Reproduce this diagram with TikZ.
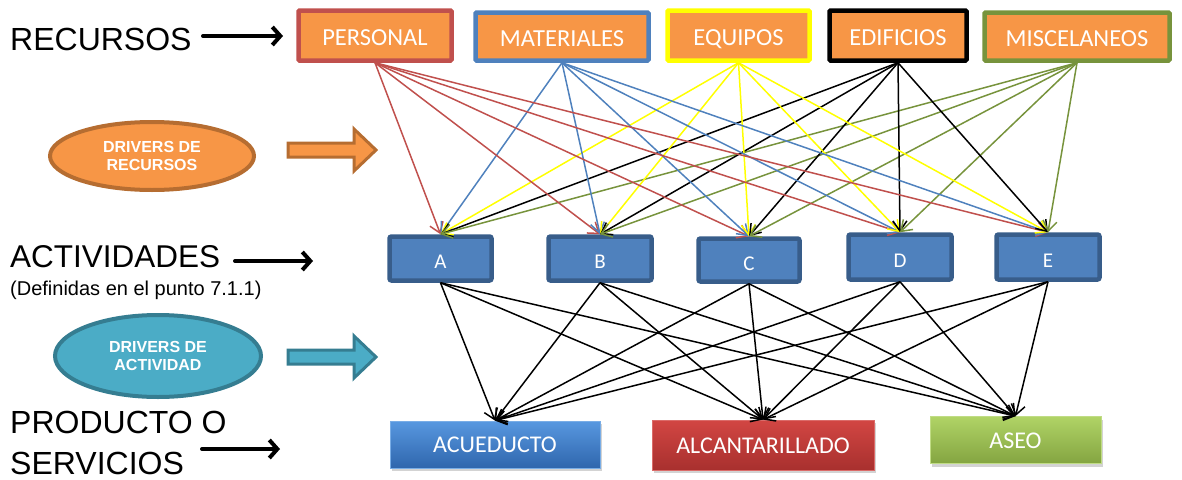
\documentclass[tikz,border=0pt]{standalone}
\usepackage{fontspec}
\setmainfont{Liberation Sans}
\newfontfamily\calfont{Carlito}
\usetikzlibrary{arrows.meta,shadows,shapes.geometric}
\definecolor{orF}{HTML}{F79646}
\definecolor{orD}{HTML}{B66D31}
\definecolor{rRed}{HTML}{C0504D}
\definecolor{rBlue}{HTML}{4F81BD}
\definecolor{rYel}{HTML}{FFFF00}
\definecolor{rGrn}{HTML}{77933C}
\definecolor{actF}{HTML}{4F81BD}
\definecolor{actD}{HTML}{385D8A}
\definecolor{tlF}{HTML}{4BACC6}
\definecolor{tlD}{HTML}{357D91}
\definecolor{acuT}{HTML}{5898E0}
\definecolor{acuB}{HTML}{2F66AD}
\definecolor{alcT}{HTML}{D24643}
\definecolor{alcB}{HTML}{A8302E}
\definecolor{aseT}{HTML}{B0D366}
\definecolor{aseB}{HTML}{84A541}
\begin{document}
\begin{tikzpicture}[x=1pt,y=-1pt,
  res/.style={draw, line width=4.5pt, fill=orF, text=white, font=\calfont\fontsize{24.5}{28}\selectfont, inner sep=0pt, rounded corners=1pt, text height=20pt, text depth=0pt},
  act/.style={draw=actD, line width=4.5pt, fill=actF, text=white, font=\calfont\fontsize{21}{24}\selectfont, inner sep=0pt, rounded corners=2pt, text height=20pt, text depth=0pt},
  prod/.style={text=white, font=\calfont\fontsize{24}{28}\selectfont, inner sep=0pt, line width=0.8pt, text height=16pt, text depth=0pt, drop shadow={opacity=0.35, shadow xshift=2pt, shadow yshift=-3pt}},
  lbl/.style={font=\fontsize{32}{38}\selectfont, inner sep=0pt, anchor=base west},
  drv/.style={ellipse, line width=4pt, text=white, font=\bfseries\fontsize{16}{18}\selectfont, align=center, inner sep=0pt},
  feed/.style={line width=1.5pt, -{Straight Barb[length=10pt,width=14pt]}},
  bigarrow/.style={line width=4pt, line cap=round, -{Straight Barb[length=8pt,width=18pt]}},
  fat/.style={line width=3pt, line join=miter}
]
\useasboundingbox (0,0) rectangle (1182,479);

% resources
\node[res, draw=rRed, minimum width=153pt, minimum height=50pt] (personal) at (375,35.5) {PERSONAL};
\node[res, draw=rBlue, minimum width=173pt, minimum height=48pt] (materiales) at (562,36.5) {MATERIALES};
\node[res, draw=rYel, minimum width=142pt, minimum height=50pt] (equipos) at (738.5,35.5) {EQUIPOS};
\node[res, draw=black, minimum width=137pt, minimum height=50pt] (edificios) at (898,35.5) {EDIFICIOS};
\node[res, draw=rGrn, minimum width=185pt, minimum height=48pt] (misc) at (1077,36.5) {MISCELANEOS};

% activities
\node[act, minimum width=102pt, minimum height=44pt] (actA) at (440.5,258.5) {A};
\node[act, minimum width=103pt, minimum height=44pt] (actB) at (600,258.5) {B};
\node[act, minimum width=101pt, minimum height=43pt] (actC) at (749,260) {C};
\node[act, minimum width=103pt, minimum height=45pt] (actD) at (900,257) {D};
\node[act, minimum width=103pt, minimum height=45pt] (actE) at (1048,257) {E};

% products
\node[prod, draw=acuT!80!white, top color=acuT, bottom color=acuB, minimum width=210pt, minimum height=47pt] (acu) at (495,444.5) {ACUEDUCTO};
\node[prod, draw=alcT!80!white, top color=alcT, bottom color=alcB, minimum width=222pt, minimum height=50pt] (alc) at (763,445) {ALCANTARILLADO};
\node[prod, draw=aseT!80!white, top color=aseT, bottom color=aseB, minimum width=171pt, minimum height=47pt] (ase) at (1015.5,440) {ASEO};

% drivers
\node[drv, draw=orD, fill=orF, minimum width=204pt, minimum height=68pt] (drvrec) at (152,156) {DRIVERS DE\\RECURSOS};
\node[drv, draw=tlD, fill=tlF, minimum width=206pt, minimum height=82pt] (drvact) at (158,356) {DRIVERS DE\\ACTIVIDAD};

% fat arrows
\draw[fat, draw=orD, fill=orF] (288,143) -- (354,143) -- (354,129) -- (376,150) -- (354,171) -- (354,157) -- (288,157) -- cycle;
\draw[fat, draw=tlD, fill=tlF] (288,350) -- (354,350) -- (354,336) -- (376,357) -- (354,378) -- (354,364) -- (288,364) -- cycle;

% left labels
\node[lbl] (reclbl) at (10,50) {RECURSOS};
\node[lbl, font=\fontsize{31.5}{38}\selectfont] (actlbl) at (10,267) {ACTIVIDADES};
\node[lbl, font=\fontsize{20}{24}\selectfont] (deflbl) at (10,295) {(Definidas en el punto 7.1.1)};
\node[lbl] (prodlbl) at (10,433) {PRODUCTO O};
\node[lbl] (servlbl) at (10,474) {SERVICIOS};

\coordinate (recArS) at (203,36);
\coordinate (recArE) at (283,36);
\coordinate (actArS) at (235,261);
\coordinate (actArE) at (313,261);
\coordinate (proArS) at (202,449);
\coordinate (proArE) at (280,449);
\draw[bigarrow] (recArS) -- (recArE);
\draw[bigarrow] (actArS) -- (actArE);
\draw[bigarrow] (proArS) -- (proArE);

% resource -> activity
\foreach \a in {actA,actB,actC,actD,actE}{
  \draw[feed, rRed] (personal.south) -- (\a.north);
  \draw[feed, rBlue] (materiales.south) -- (\a.north);
  \draw[feed, rYel] (equipos.south) -- (\a.north);
  \draw[feed, black] (edificios.south) -- (\a.north);
  \draw[feed, rGrn] (misc.south) -- (\a.north);
}

% activity -> product
\foreach \a in {actA,actB,actC,actD,actE}{
  \foreach \p in {acu,alc,ase}{
    \draw[feed, black] (\a.south) -- (\p.north);
  }
}
\end{tikzpicture}
\end{document}
